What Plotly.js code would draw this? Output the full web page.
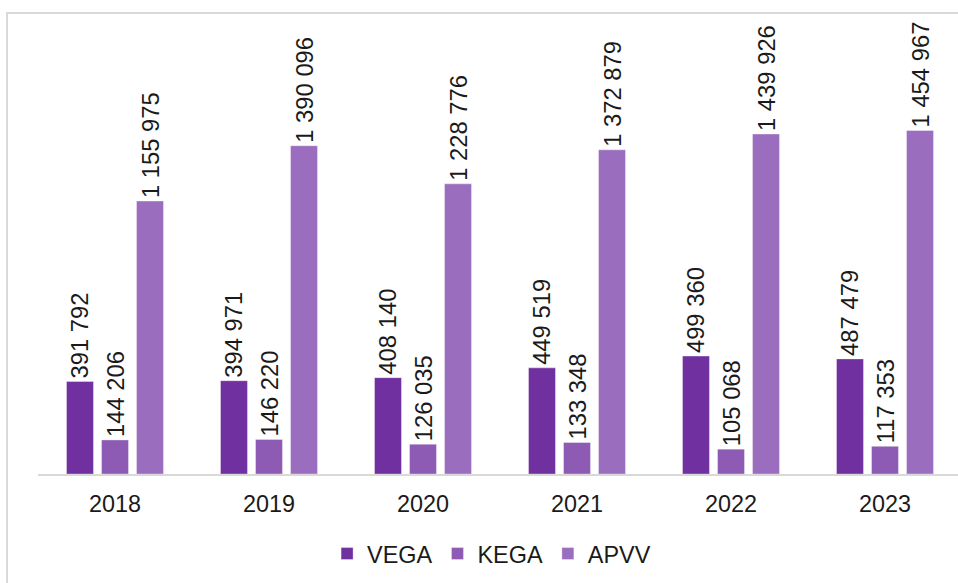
<!DOCTYPE html>
<html>
<head>
<meta charset="utf-8">
<script src="https://cdn.plot.ly/plotly-3.0.1.min.js"></script>
<style>
  html, body { margin: 0; padding: 0; background: #fff; }
  #wrap { position: relative; width: 958px; height: 583px; overflow: hidden; }
  #chart { position: absolute; left: 0; top: 0; width: 962px; height: 583px; }
  #frame { position: absolute; left: 6px; top: 12px; width: 960px; height: 580px;
           border-left: 2px solid #d9d9d9; border-top: 2px solid #d9d9d9; pointer-events: none; }
</style>
</head>
<body>
<div id="wrap">
  <div id="chart"></div>
  <div id="frame"></div>
</div>
<script>
const years = ['2018', '2019', '2020', '2021', '2022', '2023'];
const vega = [391792, 394971, 408140, 449519, 499360, 487479];
const kega = [144206, 146220, 126035, 133348, 105068, 117353];
const apvv = [1155975, 1390096, 1228776, 1372879, 1439926, 1454967];
const seriesNames = ['VEGA', 'KEGA', 'APVV'];
const seriesColors = ['#7030A0', '#8E5BB4', '#9B6DBE'];

function fmt(v) {
  return String(v).replace(/\B(?=(\d{3})+(?!\d))/g, ' ');
}

const FONT = 'Liberation Sans, Arial, sans-serif';
const allValues = [vega, kega, apvv];
const traces = allValues.map((vals, i) => ({
  type: 'bar',
  name: seriesNames[i],
  x: years,
  y: vals,
  text: vals.map(fmt),
  textposition: 'outside',
  textangle: -90,
  constraintext: 'none',
  cliponaxis: false,
  textfont: { family: FONT, size: 23.8, color: '#1a1a1a' },
  marker: { color: seriesColors[i], line: { color: 'rgba(255,255,255,0.35)', width: 1 } },
  hoverinfo: 'x+y+name'
}));

const layout = {
  width: 962,
  height: 583,
  margin: { l: 38, r: 0, t: 49, b: 109, autoexpand: false },
  paper_bgcolor: 'rgba(0,0,0,0)',
  plot_bgcolor: 'rgba(0,0,0,0)',
  barmode: 'group',
  bargap: 0.318,
  bargroupgap: 0.23,
  showlegend: true,
  legend: {
    orientation: 'h',
    xref: 'container', yref: 'container',
    x: 0.511, xanchor: 'center',
    y: 0.05, yanchor: 'middle',
    font: { family: FONT, size: 23.4, color: '#1a1a1a' },
    tracegroupgap: 0
  },
  xaxis: {
    type: 'category',
    automargin: false,
    showline: true,
    linecolor: '#d9d9d9',
    linewidth: 2,
    ticks: '',
    ticklabelstandoff: 8,
    tickfont: { family: FONT, size: 23.4, color: '#1a1a1a' },
    showgrid: false,
    zeroline: false
  },
  yaxis: {
    range: [0, 1800000],
    visible: false,
    automargin: false,
    showgrid: false,
    zeroline: false
  }
};

Plotly.newPlot('chart', traces, layout, { displayModeBar: false, staticPlot: true });
</script>
</body>
</html>
